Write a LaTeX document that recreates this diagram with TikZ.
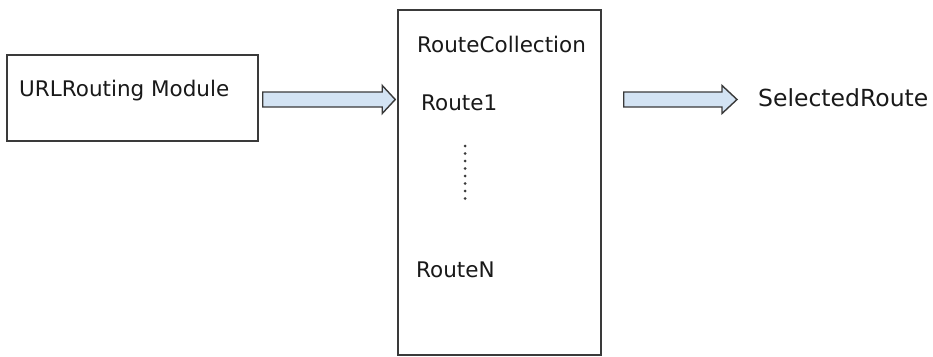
\documentclass[tikz,border=0pt]{standalone}
\usepackage{fontspec}
\setmainfont{DejaVu Sans}
\usetikzlibrary{calc}
\definecolor{arrowfill}{HTML}{D3E3F3}
\definecolor{edge}{HTML}{3A3A3A}
\tikzset{
  box/.style={draw=edge, line width=1.5pt, fill=white, inner sep=0pt},
  lbl/.style={anchor=west, inner sep=0pt, font=\fontsize{21.5}{24}\selectfont, text=black!90},
  blockarrow/.style={draw=edge, fill=arrowfill, line width=1.4pt, line join=miter},
}
\begin{document}
\begin{tikzpicture}[x=1pt,y=-1pt]
\useasboundingbox (0,0) rectangle (933,356);
% boxes
\node[box, minimum width=251pt, minimum height=86pt] (urm) at (132.5,98) {};
\node[box, minimum width=203pt, minimum height=345pt] (rc) at (499.5,182.5) {};
% texts
\node[lbl] (urmtext) at (19,91) {URLRouting Module};
\node[lbl] (rctext) at (417,44) {RouteCollection};
\node[lbl] (r1) at (421,103) {Route1};
\node[lbl] (rn) at (416,270) {RouteN};
\node[lbl, font=\fontsize{23.5}{26}\selectfont] (sel) at (758,98) {SelectedRoute};
% dots
\coordinate (d1) at (465,146);
\coordinate (d2) at (465,206);
\draw[edge, line width=3pt, line cap=round, dash pattern=on 0pt off 7.5pt] (d1) -- (d2);
% block arrows
\path[blockarrow] let \p1=($(urm.east)+(4,1.5)$), \p2=(rc.west) in
  (\x1,\y1+7.5pt) -- (\x2-15pt,\y1+7.5pt) -- (\x2-15pt,\y1+14pt) -- (\x2-2pt,\y1)
  -- (\x2-15pt,\y1-14pt) -- (\x2-15pt,\y1-7.5pt) -- (\x1,\y1-7.5pt) -- cycle;
\path[blockarrow] let \p1=($(rc.east)+(22,0)$), \p2=($(sel.west)+(-21,0)$), \p3=(urm.east) in
  (\x1,\y3-1.5pt+7.5pt) -- (\x2-15pt,\y3-1.5pt+7.5pt) -- (\x2-15pt,\y3-1.5pt+14pt) -- (\x2,\y3-1.5pt)
  -- (\x2-15pt,\y3-1.5pt-14pt) -- (\x2-15pt,\y3-1.5pt-7.5pt) -- (\x1,\y3-1.5pt-7.5pt) -- cycle;
\end{tikzpicture}
\end{document}
